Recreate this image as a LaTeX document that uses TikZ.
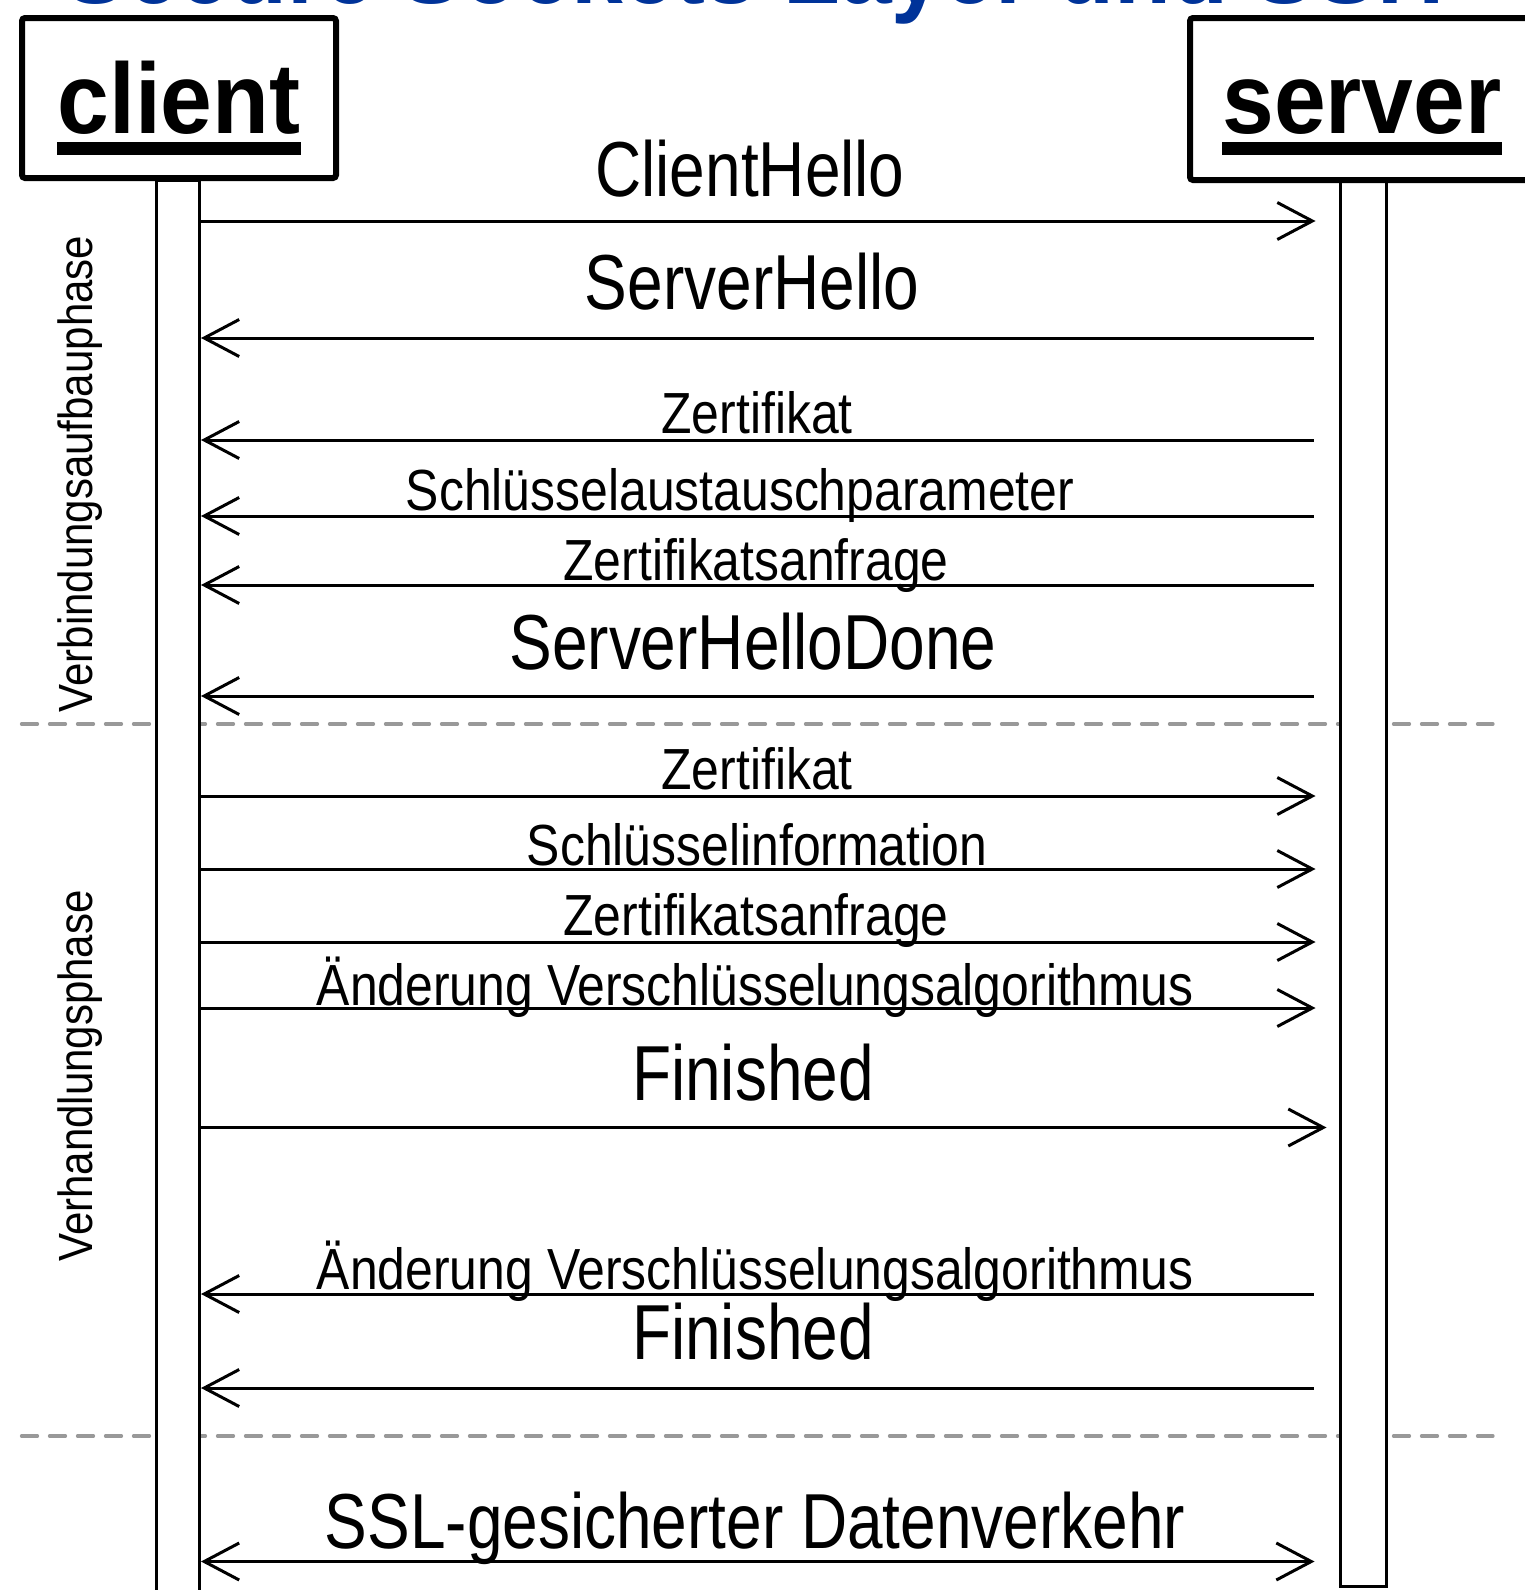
\documentclass[tikz,border=0pt]{standalone}
\usepackage{fontspec}
\setmainfont{Liberation Sans}
\newfontfamily\lblfont{Liberation Sans}[FakeStretch=0.86]
\newfontfamily\bigfont{Liberation Sans}[FakeStretch=0.82]
\newfontfamily\sidefont{Liberation Sans}[FakeStretch=0.875]
\newfontfamily\hdfont{Liberation Sans}[FakeStretch=0.93]
\usetikzlibrary{arrows.meta}
\definecolor{ttlblue}{RGB}{0,51,153}
\definecolor{dashgray}{RGB}{153,153,153}
\tikzset{
  hdbox/.style={draw, line width=6pt, rounded corners=3pt, fill=white, inner sep=0pt},
  lifeline/.style={draw, line width=3pt, fill=white, inner sep=0pt},
  hdtext/.style={inner sep=0pt, font=\hdfont\bfseries\fontsize{100}{100}\selectfont},
  ttl/.style={inner sep=0pt, text=ttlblue, font=\hdfont\bfseries\fontsize{100}{100}\selectfont},
  msg/.style={line width=3pt, -{Straight Barb[length=35pt,width=37pt,line width=3pt]}},
  bimsg/.style={line width=3pt, {Straight Barb[length=35pt,width=37pt,line width=3pt]}-{Straight Barb[length=35pt,width=37pt,line width=3pt]}},
  phase/.style={draw=dashgray, line width=3.3pt, line cap=round, dash pattern=on 16pt off 12pt},
  lbl/.style={inner sep=0pt, anchor=base, font=\lblfont\fontsize{58}{60}\selectfont},
  biglbl/.style={inner sep=0pt, anchor=base, font=\bigfont\fontsize{78}{80}\selectfont},
  sidelbl/.style={inner sep=0pt, anchor=base, rotate=90, font=\sidefont\fontsize{48}{50}\selectfont},
}
\begin{document}
\begin{tikzpicture}[x=1pt,y=-1pt]
\useasboundingbox (0,0) rectangle (1525,1590);
% title (cut off at top, as in the reference)
\node[ttl, anchor=base] (title) at (755,4) {Secure Sockets Layer und SSH};
% phase separators
\coordinate (d1a) at (21.5,724);
\coordinate (d1b) at (1493,724);
\coordinate (d2a) at (21.5,1436);
\coordinate (d2b) at (1493,1436);
\draw[phase] (d1a) -- (d1b);
\draw[phase] (d2a) -- (d2b);
% lifelines
\node[lifeline, minimum width=43.5pt, minimum height=1421pt, anchor=north] (cl) at (177.75,179) {};
\node[lifeline, minimum width=46.5pt, minimum height=1405pt, anchor=north] (sv) at (1363.25,180) {};
% header boxes
\node[hdbox, minimum width=314pt, minimum height=160pt] (cbox) at (179,98) {};
\node[hdbox, minimum width=345pt, minimum height=162pt] (sbox) at (1362.5,99) {};
\node[hdtext, anchor=base] (ctext) at (179,133) {client};
\node[hdtext, anchor=base] (stext) at (1362,133) {server};
\fill (ctext.west |- 0,142) rectangle (ctext.east |- 0,155);
\fill (stext.west |- 0,142) rectangle (stext.east |- 0,155);
% phase labels
\node[sidelbl] (ph1) at (92,474) {Verbindungsaufbauphase};
\node[sidelbl] (ph2) at (92,1076) {Verhandlungsphase};
% messages
\node[biglbl] (m1) at (750,196) {ClientHello};
\draw[msg, shorten >=23pt] (cl.east |- 0,221) -- (sv.west |- 0,221);
\node[biglbl] (m2) at (752,309) {ServerHello};
\draw[msg, shorten <=25pt] (sv.west |- 0,338) -- (cl.east |- 0,338);
\node[lbl] (m3) at (757,433) {Zertifikat};
\draw[msg, shorten <=25pt] (sv.west |- 0,440) -- (cl.east |- 0,440);
\node[lbl] (m4) at (740,510) {Schlüsselaustauschparameter};
\draw[msg, shorten <=25pt] (sv.west |- 0,516) -- (cl.east |- 0,516);
\node[lbl] (m5) at (756,580) {Zertifikatsanfrage};
\draw[msg, shorten <=25pt] (sv.west |- 0,585) -- (cl.east |- 0,585);
\node[biglbl] (m6) at (753,669) {ServerHelloDone};
\draw[msg, shorten <=25pt] (sv.west |- 0,696) -- (cl.east |- 0,696);
\node[lbl] (m7) at (757,789) {Zertifikat};
\draw[msg, shorten >=23pt] (cl.east |- 0,796) -- (sv.west |- 0,796);
\node[lbl] (m8) at (757,865) {Schlüsselinformation};
\draw[msg, shorten >=23pt] (cl.east |- 0,869) -- (sv.west |- 0,869);
\node[lbl] (m9) at (756,935) {Zertifikatsanfrage};
\draw[msg, shorten >=23pt] (cl.east |- 0,942) -- (sv.west |- 0,942);
\node[lbl] (m10) at (755,1005) {Änderung Verschlüsselungsalgorithmus};
\draw[msg, shorten >=23pt] (cl.east |- 0,1008) -- (sv.west |- 0,1008);
\node[biglbl] (m11) at (753,1100) {Finished};
\draw[msg, shorten >=12pt] (cl.east |- 0,1127.5) -- (sv.west |- 0,1127.5);
\node[lbl] (m12) at (755,1289) {Änderung Verschlüsselungsalgorithmus};
\draw[msg, shorten <=25pt] (sv.west |- 0,1294) -- (cl.east |- 0,1294);
\node[biglbl] (m13) at (753,1359) {Finished};
\draw[msg, shorten <=25pt] (sv.west |- 0,1388) -- (cl.east |- 0,1388);
\node[biglbl] (m14) at (755,1548) {SSL-gesicherter Datenverkehr};
\draw[bimsg, shorten >=24pt] (cl.east |- 0,1561.5) -- (sv.west |- 0,1561.5);
\end{tikzpicture}
\end{document}
